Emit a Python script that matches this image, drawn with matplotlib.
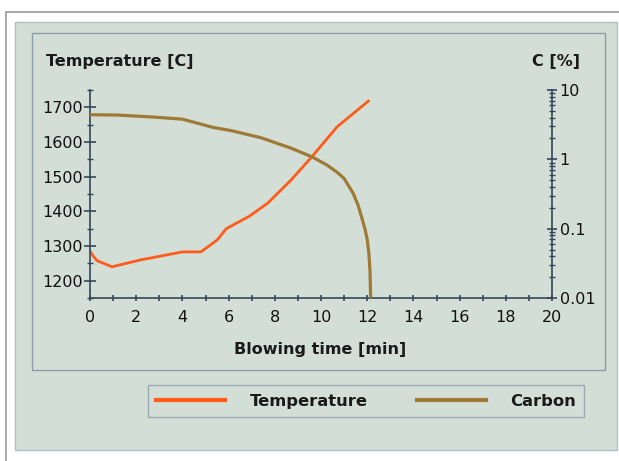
import numpy as np
import matplotlib
matplotlib.use("Agg")
import matplotlib.pyplot as plt
from matplotlib.patches import Rectangle
from matplotlib.ticker import MultipleLocator, LogLocator, NullFormatter

# data
time_temp = [0, 0.15, 0.3, 0.95, 2.2, 4.0, 4.8, 5.5, 5.9, 6.9, 7.7, 8.7, 9.6, 10.7, 12.05]
temperature = [1285, 1270, 1258, 1240, 1260, 1283, 1283, 1317, 1350, 1386, 1424, 1490, 1557, 1644, 1718]

time_c = [0, 1.2, 2.6, 4.0, 5.3, 6.1, 7.4, 8.7, 9.6, 10.25, 10.7, 11.0, 11.4, 11.6, 11.75, 11.9, 12.0, 12.07, 12.12, 12.15]
carbon = [4.4, 4.35, 4.1, 3.8, 2.9, 2.6, 2.05, 1.45, 1.09, 0.83, 0.65, 0.53, 0.32, 0.22, 0.15, 0.1, 0.07, 0.045, 0.025, 0.01]

x_ticks = list(range(0, 21, 2))
t_ticks = [1200, 1300, 1400, 1500, 1600, 1700]
c_ticks = [0.01, 0.1, 1, 10]
c_labels = ["0.01", "0.1", "1", "10"]

W, H = 619, 461
bg = "#d3ded6"
axcol = "#34465a"
orange = "#ff5c1c"
brown = "#9e7a36"

fig = plt.figure(figsize=(W / 100, H / 100), dpi=100, facecolor="white")

def box(x0, y0, x1, y1, **kw):
    fig.patches.append(Rectangle((x0 / W, 1 - y1 / H), (x1 - x0) / W, (y1 - y0) / H,
                                 transform=fig.transFigure, figure=fig, zorder=-10, **kw))

# panel frames behind the axes
box(6, 12, 640, 480, facecolor="white", edgecolor="#9a9a9a", lw=1.2)
box(15, 22, 617, 450, facecolor=bg, edgecolor="#aebfc6", lw=1.0)
box(32, 33, 605, 370, facecolor="none", edgecolor="#8c9cab", lw=1.0)

ax = fig.add_axes([90 / W, 1 - 298 / H, (552 - 90) / W, (298 - 90) / H])
ax.patch.set_alpha(0)
ax2 = ax.twinx()
ax2.patch.set_alpha(0)

l_temp, = ax.plot(time_temp, temperature, color=orange, lw=2.0)
l_c, = ax2.plot(time_c, carbon, color=brown, lw=2.3)

ax.set_xlim(0, 20)
ax.set_ylim(1150, 1750)
ax2.set_yscale("log")
ax2.set_ylim(0.01, 10)

for a in (ax, ax2):
    a.spines["top"].set_visible(False)
    for s in a.spines.values():
        s.set_color(axcol)
        s.set_linewidth(1.2)
ax.spines["right"].set_visible(False)
ax2.spines["left"].set_visible(False)
ax2.spines["bottom"].set_visible(False)

ax.set_xticks(x_ticks)
ax.xaxis.set_minor_locator(MultipleLocator(1))
ax.set_yticks(t_ticks)
ax.yaxis.set_minor_locator(MultipleLocator(50))
ax2.set_yticks(c_ticks)
ax2.set_yticklabels(c_labels)
ax2.yaxis.set_minor_locator(LogLocator(base=10, subs=np.arange(2, 10)))
ax2.yaxis.set_minor_formatter(NullFormatter())

ax.tick_params(axis="x", which="both", direction="inout", length=5, width=1.2,
               color=axcol, labelsize=11.5, pad=6, labelcolor="#111111")
ax.tick_params(axis="y", which="major", direction="inout", length=8, width=1.2,
               color=axcol, labelsize=11.5, pad=1, labelcolor="#111111")
ax.tick_params(axis="y", which="minor", direction="inout", length=5, width=1.0, color=axcol)
ax2.tick_params(axis="y", which="major", direction="inout", length=7, width=1.2,
                color=axcol, labelsize=11.5, pad=2, labelcolor="#111111")
ax2.tick_params(axis="y", which="minor", direction="inout", length=4, width=1.0, color=axcol)

fig.text(46 / W, 1 - 66 / H, "Temperature [C]", fontsize=11.5, fontweight="bold",
         color="#1a1a1a", ha="left", va="baseline")
fig.text(580 / W, 1 - 66 / H, "C [%]", fontsize=11.5, fontweight="bold",
         color="#1a1a1a", ha="right", va="baseline")
fig.text(320 / W, 1 - 349 / H, "Blowing time [min]", fontsize=11.5, fontweight="bold",
         color="#1a1a1a", ha="center", va="center")

leg = fig.legend([l_temp, l_c], ["Temperature", "Carbon"], loc="center",
                 bbox_to_anchor=(366 / W, 1 - 401 / H), ncol=2, frameon=True,
                 fancybox=False, handlelength=4.2, handletextpad=1.5,
                 columnspacing=3.0, borderpad=0.5,
                 prop={"size": 11.8, "weight": "bold"})
leg.get_frame().set_facecolor(bg)
leg.get_frame().set_edgecolor("#8c9cab")
leg.get_frame().set_linewidth(1.0)
for h in leg.get_lines():
    h.set_linewidth(3)
for t in leg.get_texts():
    t.set_color("#1a1a1a")

fig.savefig("out.png", dpi=100, facecolor="white")
